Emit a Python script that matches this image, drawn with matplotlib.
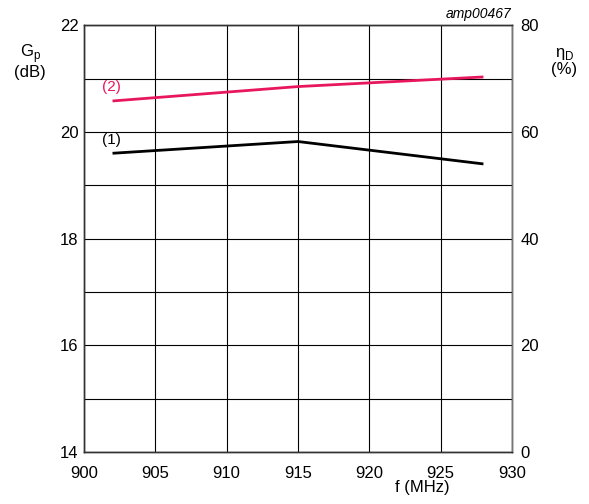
import matplotlib
matplotlib.use("Agg")
import matplotlib.pyplot as plt

plt.rcParams["font.family"] = ["Liberation Sans", "DejaVu Sans"]

# data
freq_mhz = [902, 915, 928]
gain_db = [19.60, 19.82, 19.40]          # curve (1), left axis
drain_eff_pct = [65.8, 68.5, 70.3]       # curve (2), right axis

RED = "#e8175d"

fig = plt.figure(figsize=(5.89, 5.04), dpi=100)
ax = fig.add_axes([0.1426, 0.103, 0.7266, 0.847])

ax.plot(freq_mhz, gain_db, "-", color="black", lw=2.0, solid_capstyle="butt")
ax.set_xlim(900, 930)
ax.set_ylim(14, 22)
ax.set_xticks(range(900, 931, 5))
ax.set_yticks(range(14, 23, 1))
ax.set_yticklabels([str(v) if v % 2 == 0 else "" for v in range(14, 23)])
ax.grid(True, color="black", lw=0.8)
ax.tick_params(axis="y", length=0, labelsize=12, pad=4)
ax.tick_params(axis="x", length=0, labelsize=12, pad=10)
for s in ax.spines.values():
    s.set_linewidth(1.0)
    s.set_color("#333333")

ax2 = ax.twinx()
ax2.plot(freq_mhz, drain_eff_pct, "-", color=RED, lw=2.0, solid_capstyle="butt")
ax2.set_ylim(0, 80)
ax2.set_yticks(range(0, 81, 20))
ax2.tick_params(length=0, labelsize=12, pad=6)
for s in ax2.spines.values():
    s.set_linewidth(1.0)
    s.set_color("#333333")
ax2.spines["right"].set_color("#777777")

ax.text(901.95, 19.85, "(1)", fontsize=11, color="black", ha="center", va="center")
ax.text(901.95, 20.84, "(2)", fontsize=11, color=RED, ha="center", va="center")

fig.text(0.051, 0.879, "G$_\\mathregular{p}$\n(dB)", fontsize=12, ha="center", va="center",
         linespacing=1.0)
fig.text(0.958, 0.877, "η$_\\mathregular{D}$\n(%)", fontsize=12, ha="center", va="center",
         linespacing=1.0)
fig.text(0.869, 0.958, "amp00467", fontsize=10, style="italic", ha="right", va="bottom")
fig.text(0.717, 0.032, "f (MHz)", fontsize=12, ha="center", va="center")

fig.savefig("out.png", dpi=100)
